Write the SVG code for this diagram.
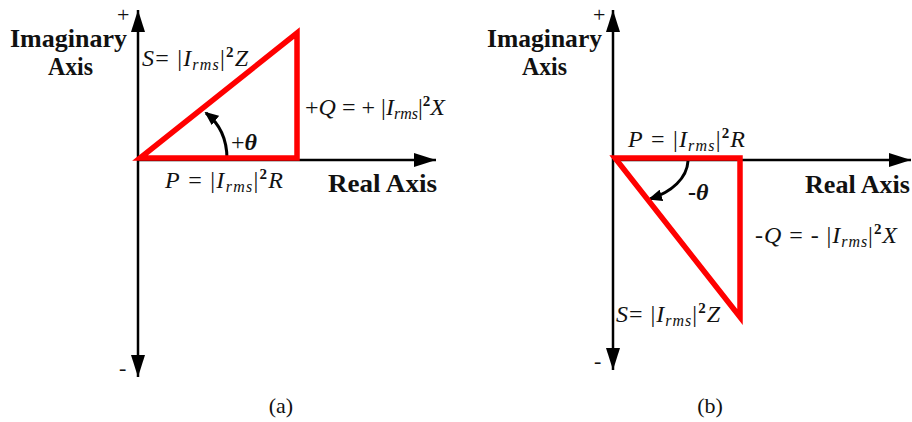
<svg xmlns="http://www.w3.org/2000/svg" width="912" height="422" viewBox="0 0 912 422">
<style>
.ax{stroke:#000;stroke-width:2.5;fill:none}
.tri{stroke:#f00;stroke-width:5.5;fill:none;stroke-linejoin:miter}
.arc{stroke:#000;stroke-width:3;fill:none}
.lbl{font-family:"Liberation Serif","Times New Roman",serif;font-weight:bold;font-size:25px;fill:#111}
.f{font-family:"Liberation Serif","Times New Roman",serif;font-size:24px;fill:#111}
.i{font-style:italic}
.sub{font-size:16px}
.sup{font-size:15px;font-weight:bold}
.cap{font-family:"Liberation Serif","Times New Roman",serif;font-size:22px;fill:#111}
.sg{font-family:"Liberation Serif","Times New Roman",serif;font-size:22px;fill:#111}
</style>
<defs>
<marker id="ah" markerWidth="14" markerHeight="12" refX="12" refY="6" orient="auto" markerUnits="userSpaceOnUse">
<path d="M0,0 L14,6 L0,12 Z" fill="#000"/>
</marker>
<marker id="big" markerWidth="22" markerHeight="14" refX="22" refY="7" orient="auto" markerUnits="userSpaceOnUse">
<path d="M0,0 L22,7 L0,14 Z" fill="#000"/>
</marker>
</defs>
<g id="connectors">
<line class="ax" x1="138" y1="160" x2="138" y2="10" marker-end="url(#big)"/>
<line class="ax" x1="138" y1="160" x2="138" y2="377" marker-end="url(#big)"/>
<line class="ax" x1="138" y1="160" x2="436" y2="160" marker-end="url(#big)"/>
<line class="ax" x1="613" y1="160" x2="613" y2="10" marker-end="url(#big)"/>
<line class="ax" x1="613" y1="160" x2="613" y2="370" marker-end="url(#big)"/>
<line class="ax" x1="613" y1="160" x2="911" y2="160" marker-end="url(#big)"/>
<path class="arc" d="M227,159 C227,138 220,124 206,113" marker-end="url(#ah)"/>
<path class="arc" d="M688,161 C687,178 672,192 650,199" marker-end="url(#ah)"/>
</g>
<g id="triangle-a">
<polygon class="tri" points="140,158 297,158 297,33"/>
</g>
<g id="triangle-b">
<polygon class="tri" points="615,158 740,158 740,317"/>
</g>
<g id="labels-a">
<text class="lbl" x="10" y="47" textLength="117" lengthAdjust="spacingAndGlyphs">Imaginary</text>
<text class="lbl" x="48" y="75" textLength="45" lengthAdjust="spacingAndGlyphs">Axis</text>
<text class="sg" x="117" y="22">+</text>
<text class="sg" x="119" y="375">-</text>
<text class="f" x="142" y="66" textLength="106"><tspan class="i">S</tspan>= |<tspan class="i">I</tspan><tspan class="i sub" dy="4">rms</tspan><tspan dy="-4">|</tspan><tspan class="sup" dy="-9">2</tspan><tspan class="i" dy="9">Z</tspan></text>
<text class="f" x="305" y="115" textLength="140">+<tspan class="i">Q</tspan> = + |<tspan class="i">I</tspan><tspan class="i sub" dy="4">rms</tspan><tspan dy="-4">|</tspan><tspan class="sup" dy="-9">2</tspan><tspan class="i" dy="9">X</tspan></text>
<text class="f" x="231" y="150">+<tspan class="i" font-weight="bold">θ</tspan></text>
<text class="f" x="165" y="188" textLength="118"><tspan class="i">P</tspan> = |<tspan class="i">I</tspan><tspan class="i sub" dy="4">rms</tspan><tspan dy="-4">|</tspan><tspan class="sup" dy="-9">2</tspan><tspan class="i" dy="9">R</tspan></text>
<text class="lbl" x="328" y="192" textLength="109" lengthAdjust="spacingAndGlyphs">Real Axis</text>
<text class="cap" x="281" y="413" text-anchor="middle">(a)</text>
</g>
<g id="labels-b">
<text class="lbl" x="487" y="47" textLength="115" lengthAdjust="spacingAndGlyphs">Imaginary</text>
<text class="lbl" x="522" y="75" textLength="45" lengthAdjust="spacingAndGlyphs">Axis</text>
<text class="sg" x="593" y="22">+</text>
<text class="sg" x="594" y="368">-</text>
<text class="f" x="628" y="147" textLength="117"><tspan class="i">P</tspan> = |<tspan class="i">I</tspan><tspan class="i sub" dy="4">rms</tspan><tspan dy="-4">|</tspan><tspan class="sup" dy="-9">2</tspan><tspan class="i" dy="9">R</tspan></text>
<text class="f" x="688" y="200"><tspan font-weight="bold">-</tspan><tspan class="i" font-weight="bold">θ</tspan></text>
<text class="lbl" x="805" y="193" textLength="105" lengthAdjust="spacingAndGlyphs">Real Axis</text>
<text class="f" x="755" y="243" textLength="142">-<tspan class="i">Q</tspan> = - |<tspan class="i">I</tspan><tspan class="i sub" dy="4">rms</tspan><tspan dy="-4">|</tspan><tspan class="sup" dy="-9">2</tspan><tspan class="i" dy="9">X</tspan></text>
<text class="f" x="616" y="322" textLength="104"><tspan class="i">S</tspan>= |<tspan class="i">I</tspan><tspan class="i sub" dy="4">rms</tspan><tspan dy="-4">|</tspan><tspan class="sup" dy="-9">2</tspan><tspan class="i" dy="9">Z</tspan></text>
<text class="cap" x="710" y="413" text-anchor="middle">(b)</text>
</g>
</svg>
